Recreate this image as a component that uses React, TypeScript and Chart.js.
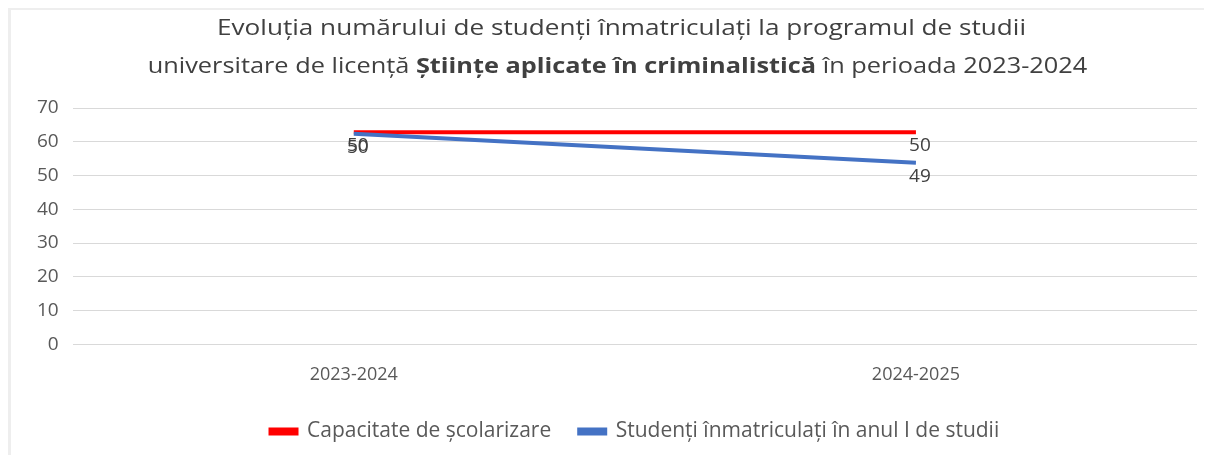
import React, { useEffect, useRef } from "react";
import { Chart, registerables } from "chart.js";

Chart.register(...registerables);

const categories = ["2023-2024", "2024-2025"];
const capacityValues = [62.8, 62.8];
const enrolledValues = [62.4, 53.8];
const capacityLabels = ["50", "50"];
const enrolledLabels = ["50", "49"];
const seriesNames = ["Capacitate de școlarizare", "Studenți înmatriculați în anul I de studii"];
const seriesColors = ["#FF0000", "#4472C4"];
const yMin = 0;
const yMax = 70;
const yStep = 10;
const titleLine1 = "Evoluția numărului de studenți înmatriculați la programul de studii";
const titleLine2Parts: [string, boolean][] = [
  ["universitare de licență ", false],
  ["Științe aplicate în criminalistică", true],
  [" în perioada 2023-2024", false],
];

const FONT = "'Open Sans', 'Noto Sans', sans-serif";

const titlePlugin = {
  id: "customTitle",
  afterDraw(chart: any) {
    const ctx = chart.ctx;
    const cx = chart.width / 2 + 14;
    ctx.save();
    ctx.fillStyle = "#404040";
    ctx.textBaseline = "alphabetic";
    ctx.textAlign = "left";
    const size = 22;
    ctx.font = `normal ${size}px ${FONT}`;
    const w1 = ctx.measureText(titleLine1).width;
    const sx = 809 / w1;
    ctx.save();
    ctx.translate(cx, 25);
    ctx.scale(sx, 1);
    ctx.fillText(titleLine1, -w1 / 2, 0);
    ctx.restore();
    let total = 0;
    const widths = titleLine2Parts.map(([t, b]) => {
      ctx.font = `${b ? "bold" : "normal"} ${size}px ${FONT}`;
      const w = ctx.measureText(t).width;
      total += w;
      return w;
    });
    ctx.save();
    ctx.translate(cx - 4, 63);
    ctx.scale(sx * 0.97, 1);
    let x = -total / 2;
    titleLine2Parts.forEach(([t, b], i) => {
      ctx.font = `${b ? "bold" : "normal"} ${size}px ${FONT}`;
      ctx.fillText(t, x, 0);
      x += widths[i];
    });
    ctx.restore();
    ctx.restore();
  },
};

const labelPlugin = {
  id: "pointLabels",
  afterDatasetsDraw(chart: any) {
    const ctx = chart.ctx;
    const labelSets = [capacityLabels, enrolledLabels];
    ctx.save();
    ctx.font = `normal 19px ${FONT}`;
    ctx.fillStyle = "#404040";
    ctx.textAlign = "center";
    ctx.textBaseline = "top";
    chart.data.datasets.forEach((ds: any, di: number) => {
      const meta = chart.getDatasetMeta(di);
      meta.data.forEach((pt: any, i: number) => {
        ctx.fillText(labelSets[di][i], pt.x + 4, pt.y + 4);
      });
    });
    ctx.restore();
  },
};

export default function App() {
  const ref = useRef<HTMLCanvasElement | null>(null);
  useEffect(() => {
    if (!ref.current) return;
    const chart = new Chart(ref.current, {
      type: "line",
      data: {
        labels: categories,
        datasets: [
          {
            label: seriesNames[0],
            data: capacityValues,
            borderColor: seriesColors[0],
            backgroundColor: seriesColors[0],
            borderWidth: 4,
            pointRadius: 0,
            tension: 0,
            order: 1,
          },
          {
            label: seriesNames[1],
            data: enrolledValues,
            borderColor: seriesColors[1],
            backgroundColor: seriesColors[1],
            borderWidth: 4,
            pointRadius: 0,
            tension: 0,
            order: 0,
          },
        ],
      },
      options: {
        animation: false,
        responsive: true,
        maintainAspectRatio: false,
        layout: { padding: { top: 98, left: 12, right: 7, bottom: 3 } },
        scales: {
          x: {
            offset: true,
            grid: { display: false },
            border: { display: false },
            ticks: { color: "#595959", font: { family: FONT, size: 18 }, padding: 12 },
            afterFit: (scale: any) => {
              scale.height -= 5;
            },
          },
          y: {
            min: yMin,
            max: yMax,
            ticks: { stepSize: yStep, color: "#595959", font: { family: FONT, size: 19 }, padding: 14 },
            grid: { color: "#d9d9d9", lineWidth: 1, drawTicks: false },
            border: { display: false },
          },
        },
        plugins: {
          title: { display: false },
          tooltip: { enabled: false },
          legend: {
            position: "bottom",
            fullSize: false,
            labels: {
              color: "#595959",
              font: { family: FONT, size: 21 },
              boxWidth: 26,
              boxHeight: 4,
              padding: 28,
              sort: (a: any, b: any) => a.datasetIndex - b.datasetIndex,
            },
          },
        },
      },
      plugins: [titlePlugin, labelPlugin],
    });
    return () => chart.destroy();
  }, []);
  return (
    <div
      style={{
        width: "100%",
        height: 447,
        boxSizing: "border-box",
        borderLeft: "3px solid #eeeeee",
        borderTop: "2px solid #eeeeee",
        background: "#ffffff",
      }}
    >
      <canvas ref={ref} />
    </div>
  );
}
